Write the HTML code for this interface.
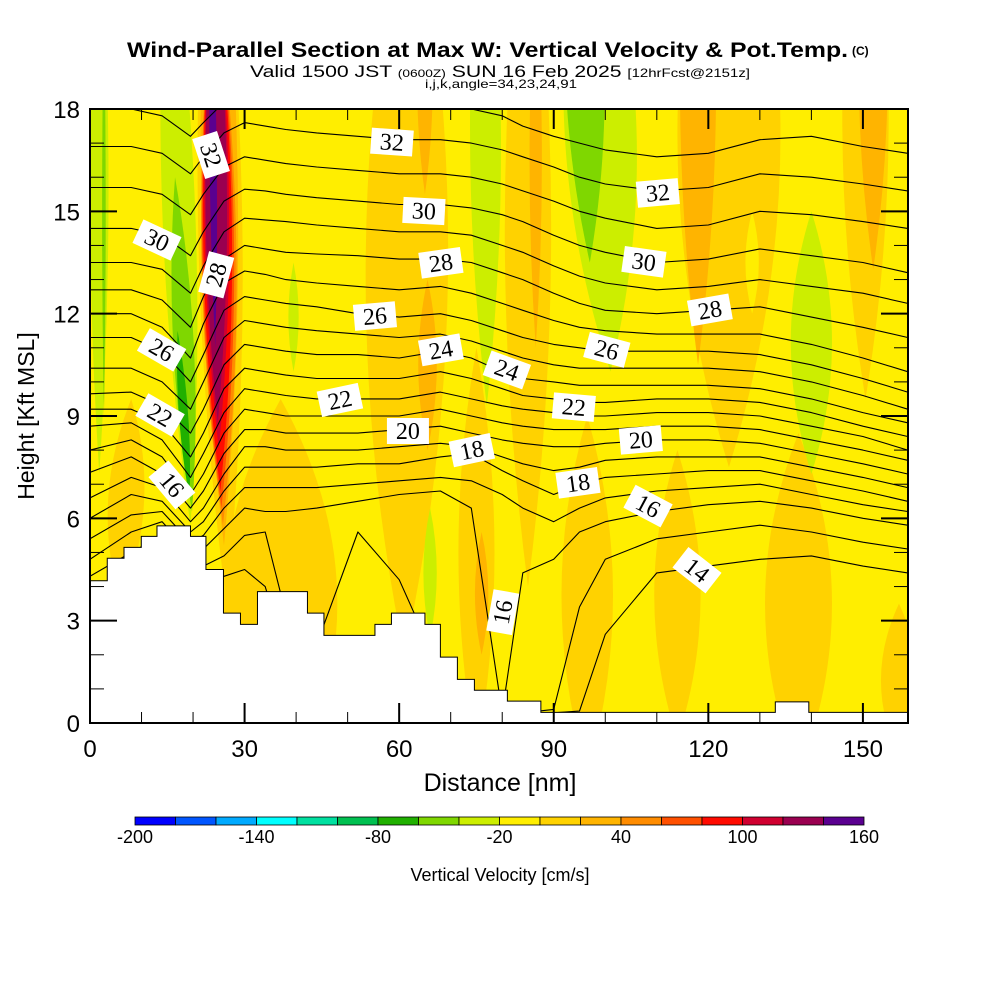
<!DOCTYPE html>
<html><head><meta charset="utf-8"><title>Wind-Parallel Section</title>
<style>html,body{margin:0;padding:0;background:#fff}svg{display:block}</style></head>
<body>
<svg id="chart" width="1000" height="1000" viewBox="0 0 1000 1000" xmlns="http://www.w3.org/2000/svg" font-family="'Liberation Sans', sans-serif">
<defs><clipPath id="plotclip"><rect x="90" y="109" width="818" height="614"/></clipPath></defs>
<rect x="0" y="0" width="1000" height="1000" fill="#fff"/>
<g>
<text x="127" y="57" font-size="21" font-weight="bold" textLength="721" lengthAdjust="spacingAndGlyphs">Wind-Parallel Section at Max W: Vertical Velocity &amp; Pot.Temp.</text>
<text x="852" y="55" font-size="12" font-weight="bold">(C)</text>
<text x="250" y="77" font-size="17" textLength="500" lengthAdjust="spacingAndGlyphs">Valid 1500 JST <tspan font-size="11">(0600Z)</tspan> SUN 16 Feb 2025 <tspan font-size="12">[12hrFcst@2151z]</tspan></text>
<text x="425" y="88" font-size="12" textLength="152" lengthAdjust="spacingAndGlyphs">i,j,k,angle=34,23,24,91</text>
</g>
<rect x="90" y="109" width="818" height="614" fill="#ffee00"/>
<g id="bands" clip-path="url(#plotclip)"></g>
<g id="contours" clip-path="url(#plotclip)"></g>
<g id="terrain" clip-path="url(#plotclip)"></g>
<g id="clabels" clip-path="url(#plotclip)"></g>
<g id="axes"></g>
<text x="500" y="791" font-size="25" text-anchor="middle">Distance [nm]</text>
<text transform="translate(34,416) rotate(-90)" font-size="23" text-anchor="middle">Height [Kft MSL]</text>
<g id="colorbar"></g>
<text x="500" y="881" font-size="18" text-anchor="middle">Vertical Velocity [cm/s]</text>
</svg>
<script>
// ---- axis data ----
const xTicks = [0, 30, 60, 90, 120, 150];
const yTicks = [0, 3, 6, 9, 12, 15, 18];
const palette = ["#0000ff","#0055ff","#00aaff","#00ffff","#00e0a0","#00c050","#20b000","#7fd700","#ccee00","#ffee00","#ffd200","#ffb400","#ff8c00","#ff5000","#ff0a00","#d00030","#9a0050","#5a0090"];
const cbLabels = [-200, -140, -80, -20, 40, 100, 160];
// ---- vertical velocity field bands (nm, kft, colour level index) ----
const bandXb = [1.8,2.7,6,19.5,19.8,19.3,37,52.5,61,65.5,65,66,75,76,77,85,86.5,96.5,101,97,124,118,128.5,114,137.5,140,150.5,152,157,39.5,26.5,26,25.8,25.5,25.3,25,24.8,24.3];
const bandZb = [7.3,9,3.5,5.8,6.2,6.6,-2.5,2.3,2,8,15.5,2.5,-1,2,9.3,4,11,-1.5,10.3,13.5,7.5,10.5,12,-0.5,-1.5,7.3,9.5,13.3,-1,10.3,3.5,5.2,5.8,6.3,6.8,8,8.8,11];
const bandXt = [1.8,2.7,8,15,16.5,17,37,52.5,62,65.5,65,66,75,76,76.5,85,86.5,96.5,97,95,124,118,128.5,114,137.5,140,150.5,152,157,39.5,24,24.2,24.2,24.2,24.2,24.2,24.2,23.5];
const bandZt = [24,21,9.5,24,16,11.5,9.5,5.8,25,13,22,6.3,11,5.6,25,25,22,9,25,25,27,27,15,8,8.5,15,26,25,3.5,13.5,26,26,22,22,22,22,22,22];
const bandHw = [1.8,0.35,3.5,3.2,2.0,0.9,11,3.8,8,1.8,1.5,1.3,3.5,1.3,3,4.5,1.2,5,7,3.8,10,3.5,1.3,4.5,6.5,4,4.5,2.8,3.5,1,4.3,3.6,3.4,3.1,2.8,2.4,2.1,0.7];
const bandLvl = [8,7,10,8,7,6,10,9,10,11,11,8,10,11,8,10,11,10,8,7,10,11,9,10,10,8,10,11,10,8,10,11,12,13,14,15,16,17];
// ---- potential temperature contours (heights in kft at stations) ----
const stations = [0,8,14,19.5,22,26,30,34,38,44,52,60,68,74,80,84,90,95,100,110,120,130,140,150,158.7];
const thetaLevels = [33,32,31,30,29,28,27,26,25,24,23,22,21,20,19,18,17,16,15,14];
const h33 = [18.0,18.0,17.8,17.2,17.6,18.2,18.5,18.5,18.4,18.3,18.1,18.0,18.1,18.0,17.8,17.5,17.2,17.0,16.8,16.6,16.7,17.1,17.2,16.9,16.7];
const h32 = [16.9,16.9,16.7,16.1,16.6,17.3,17.6,17.5,17.4,17.3,17.2,17.1,17.1,17.0,16.8,16.6,16.3,16.0,15.8,15.6,15.7,16.1,16.0,15.8,15.6];
const h31 = [15.7,15.7,15.5,14.9,15.5,16.3,16.6,16.5,16.4,16.3,16.2,16.1,16.1,16.0,15.8,15.6,15.3,15.0,14.8,14.5,14.6,15.0,14.9,14.7,14.5];
const h30 = [14.5,14.5,14.3,13.7,14.4,15.3,15.65,15.6,15.5,15.4,15.3,15.2,15.2,15.1,14.9,14.7,14.3,14.0,13.8,13.5,13.6,13.9,13.7,13.5,13.2];
const h29 = [13.5,13.5,13.3,12.6,13.4,14.4,14.8,14.75,14.7,14.6,14.5,14.4,14.4,14.3,14.0,13.8,13.4,13.1,12.9,12.7,12.8,13.0,12.8,12.6,12.3];
const h28 = [12.7,12.7,12.4,11.6,12.5,13.6,14.0,13.9,13.8,13.75,13.7,13.6,13.6,13.5,13.2,13.0,12.6,12.3,12.1,12.0,12.1,12.2,11.9,11.6,11.3];
const h27 = [12.0,12.0,11.6,10.7,11.7,12.9,13.25,13.15,13.0,12.9,12.8,12.7,12.8,12.6,12.3,12.1,11.8,11.6,11.5,11.4,11.4,11.4,11.1,10.7,10.3];
const h26 = [11.3,11.3,10.9,10.0,10.8,12.1,12.5,12.4,12.3,12.2,12.0,11.9,12.0,11.8,11.5,11.3,11.1,11.0,10.9,10.9,10.9,10.8,10.5,10.1,9.7];
const h25 = [10.4,10.4,10.0,9.2,10.0,11.3,11.8,11.7,11.6,11.5,11.4,11.3,11.4,11.2,10.9,10.7,10.5,10.4,10.4,10.4,10.4,10.3,10.0,9.6,9.2];
const h24 = [9.65,9.7,9.3,8.5,9.2,10.5,11.1,11.0,10.9,10.8,10.8,10.7,10.9,10.7,10.3,10.1,10.0,9.9,9.9,9.9,9.9,9.8,9.5,9.1,8.8];
const h23 = [9.2,9.2,8.8,7.8,8.5,9.8,10.4,10.3,10.2,10.1,10.1,10.1,10.3,10.1,9.8,9.6,9.5,9.4,9.4,9.5,9.5,9.4,9.1,8.7,8.4];
const h22 = [8.7,8.8,8.3,7.2,7.9,9.1,9.8,9.7,9.6,9.5,9.5,9.5,9.7,9.5,9.3,9.2,9.1,9.0,9.0,9.1,9.1,9.0,8.7,8.4,8.0];
const h21 = [8.0,8.3,7.8,6.7,7.3,8.5,9.2,9.1,9.0,9.0,9.0,9.0,9.2,9.0,8.8,8.7,8.6,8.6,8.6,8.7,8.7,8.6,8.3,8.0,7.7];
const h20 = [7.35,7.8,7.3,6.3,6.8,7.9,8.6,8.6,8.5,8.5,8.5,8.6,8.7,8.5,8.3,8.2,8.1,8.1,8.2,8.3,8.3,8.2,7.9,7.6,7.3];
const h19 = [6.6,7.2,6.9,5.9,6.3,7.3,8.1,8.1,8.0,8.0,8.0,8.1,8.2,8.1,7.8,7.6,7.4,7.5,7.7,7.8,7.8,7.8,7.5,7.2,6.9];
const h18 = [6.0,6.7,6.5,5.6,5.9,6.8,7.5,7.5,7.5,7.5,7.6,7.6,7.8,7.9,7.4,7.1,6.7,7.0,7.2,7.3,7.4,7.4,7.1,6.8,6.5];
const h17 = [5.4,6.1,6.2,5.3,5.5,6.3,6.9,6.9,6.9,6.9,7.0,7.1,7.2,7.1,6.7,6.3,5.9,6.3,6.6,6.8,6.9,7.0,6.7,6.4,6.2];
const h16 = [4.8,5.6,5.9,5.0,5.1,5.7,6.3,6.2,6.2,6.3,6.5,6.7,6.8,6.3,0.3,4.4,4.8,5.6,5.9,6.2,6.4,6.5,6.3,6.0,5.8];
const h15 = [4.3,5.0,5.5,4.8,4.6,4.9,5.5,5.6,3.2,2.3,5.6,4.2,1.5,0.8,0.3,0.3,0.4,3.4,4.8,5.4,5.6,5.8,5.6,5.3,5.1];
const h14 = [3.9,4.4,5.0,4.5,4.2,4.3,4.5,4.0,2.0,1.0,1.5,1.5,0.5,0.4,0.3,0.3,0.3,0.35,2.6,4.4,4.6,4.8,4.9,4.6,4.4];
const thetaHeights = [h33,h32,h31,h30,h29,h28,h27,h26,h25,h24,h23,h22,h21,h20,h19,h18,h17,h16,h15,h14];
// ---- terrain (step edges in nm, tops in kft) ----
const terrEdges = [0,3.35,6.6,9.95,13,19.5,22.5,25.9,29.2,32.5,42.2,45.4,55.3,58.5,65,68,71.3,74.6,81,87.5,133,139.5,158.7];
const terrTop = [4.17,4.83,5.15,5.47,5.78,5.47,4.5,3.22,2.89,3.85,3.22,2.57,2.89,3.22,2.89,1.93,1.28,0.96,0.64,0.31,0.62,0.31];
// ---- contour labels (text, nm, kft, rotation deg) ----
const labText = ["32","28","30","26","22","16","32","30","28","26","24","24","22","20","18","32","30","28","26","22","20","18","16","14","16"];
const labX = [23.5,24.5,13,13.9,13.6,15.9,58.6,64.8,68.1,55.3,68.1,80.9,48.5,61.7,74.1,110.2,107.5,120.3,100.3,93.9,106.9,94.7,108.3,117.8,80.1];
const labZ = [16.65,13.14,14.16,10.94,9.03,6.98,17.03,15.01,13.49,11.93,10.94,10.35,9.47,8.56,8.0,15.54,13.52,12.11,10.94,9.26,8.3,7.04,6.36,4.48,3.25];
const labRot = [72,-75,25,30,30,50,4,3,-8,-5,-10,20,-12,0,-12,-5,8,-10,15,5,-5,-8,28,38,-80];

const NS = "http://www.w3.org/2000/svg";
const X = nm => 90 + nm * (818 / 158.75);
const Z = k => 723 - k * (614 / 18);
function mk(tag, attrs, parent) {
  const e = document.createElementNS(NS, tag);
  for (const k in attrs) e.setAttribute(k, attrs[k]);
  parent.appendChild(e);
  return e;
}

// bands
const gB = document.getElementById("bands");
for (let i = 0; i < bandLvl.length; i++) {
  const bx = X(bandXb[i]), by = Z(bandZb[i]), tx = X(bandXt[i]), ty = Z(bandZt[i]);
  const mx = (bx + tx) / 2, my = (by + ty) / 2;
  const w = bandHw[i] * (818 / 158.75) * 2;
  const p = mk("path", {d: `M${bx},${by} Q${mx - w},${my} ${tx},${ty} Q${mx + w},${my} ${bx},${by}Z`, fill: palette[bandLvl[i]]}, gB);
  
  
}

// contours
const gC = document.getElementById("contours");
for (let j = 0; j < thetaLevels.length; j++) {
  const hs = thetaHeights[j];
  const pts = stations.map((s, i) => X(s).toFixed(1) + "," + Z(hs[i]).toFixed(1)).join(" ");
  const pl = mk("polyline", {points: pts, fill: "none", stroke: "#000", "stroke-width": 1.1, "stroke-linejoin": "round"}, gC);
  
  
}

// terrain
const gT = document.getElementById("terrain");
let d = `M${X(terrEdges[0])},${Z(-1)}`;
for (let i = 0; i < terrTop.length; i++) {
  d += ` L${X(terrEdges[i])},${Z(terrTop[i])} L${X(terrEdges[i + 1])},${Z(terrTop[i])}`;
}
d += ` L${X(terrEdges[terrEdges.length - 1])},${Z(-1)}Z`;
const tp = mk("path", {d: d, fill: "#fff", stroke: "#000", "stroke-width": 1}, gT);



// contour labels
const gL = document.getElementById("clabels");
for (let i = 0; i < labText.length; i++) {
  const g = mk("g", {transform: `translate(${X(labX[i])},${Z(labZ[i])}) rotate(${labRot[i]})`}, gL);
  
  
  mk("rect", {x: -21, y: -13, width: 42, height: 26, fill: "#fff"}, g);
  const t = mk("text", {x: 0, y: 8, "font-size": 24, "text-anchor": "middle", "font-family": "'Liberation Serif', serif"}, g);
  t.textContent = labText[i];
}

// axes
const gA = document.getElementById("axes");
mk("rect", {x: 90, y: 109, width: 818, height: 614, fill: "none", stroke: "#000", "stroke-width": 2}, gA);
for (let v = 0; v <= 158; v += 10) {
  const major = v % 30 === 0, L = major ? 20 : 11, x = X(v);
  mk("line", {x1: x, y1: 723, x2: x, y2: 723 - L, stroke: "#000", "stroke-width": major ? 2 : 1}, gA);
  mk("line", {x1: x, y1: 109, x2: x, y2: 109 + L, stroke: "#000", "stroke-width": major ? 2 : 1}, gA);
}
for (let v = 0; v <= 18; v += 1) {
  const major = v % 3 === 0, L = major ? 27 : 14, y = Z(v);
  mk("line", {x1: 90, y1: y, x2: 90 + L, y2: y, stroke: "#000", "stroke-width": major ? 2 : 1}, gA);
  mk("line", {x1: 908, y1: y, x2: 908 - L, y2: y, stroke: "#000", "stroke-width": major ? 2 : 1}, gA);
}
xTicks.forEach(v => {
  const t = mk("text", {x: X(v), y: 757, "font-size": 24, "text-anchor": "middle"}, gA);
  
  
  t.textContent = v;
});
yTicks.forEach(v => {
  const t = mk("text", {x: 80, y: Z(v) + 9, "font-size": 24, "text-anchor": "end"}, gA);
  
  
  t.textContent = v;
});

// colorbar
const gCB = document.getElementById("colorbar");
const cbX0 = 135, cbX1 = 864, segW = (cbX1 - cbX0) / palette.length;
palette.forEach((c, i) => {
  const r = mk("rect", {x: cbX0 + i * segW, y: 817, width: segW, height: 8, fill: c, stroke: "#000", "stroke-width": 0.8}, gCB);
  
  
});
cbLabels.forEach(v => {
  const x = cbX0 + (v + 200) / 20 * segW;
  const t = mk("text", {x: x, y: 843, "font-size": 18, "text-anchor": "middle"}, gCB);
  
  
  t.textContent = v;
});
</script>
</body></html>
